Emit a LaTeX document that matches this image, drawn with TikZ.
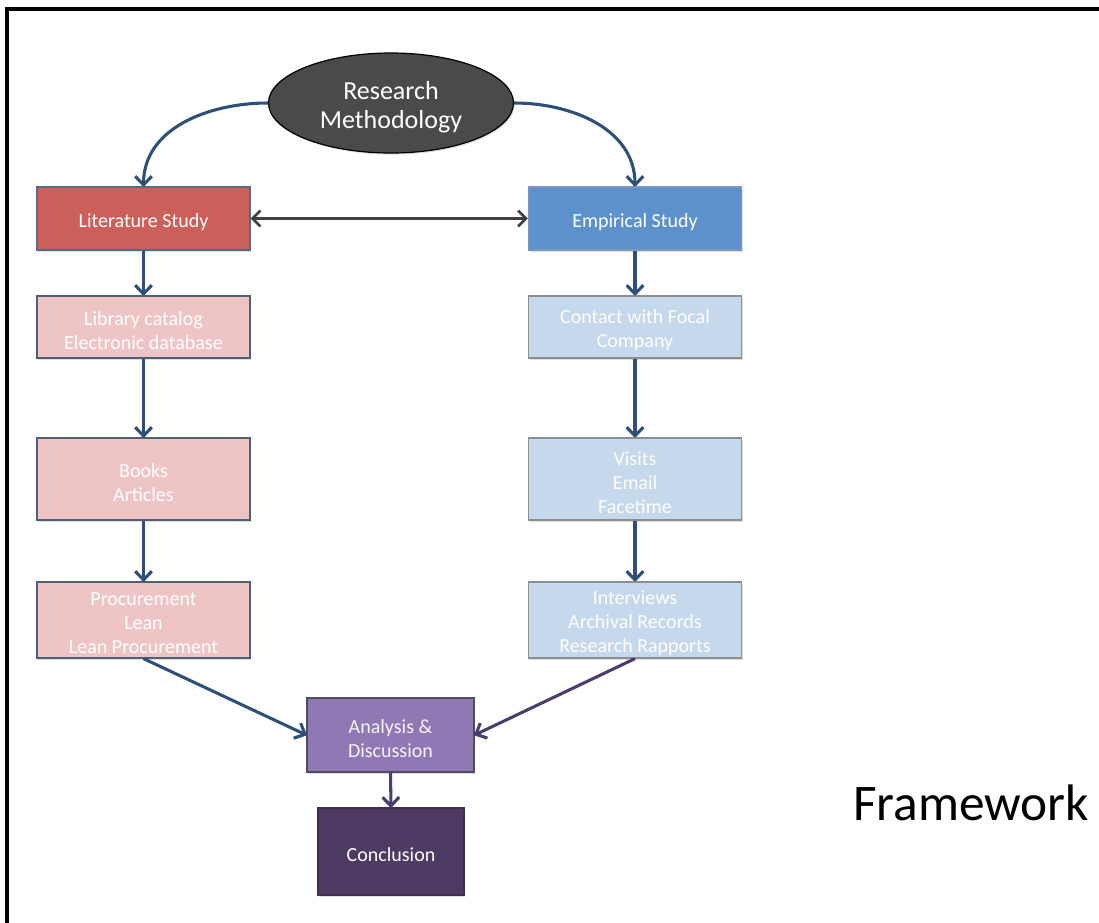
\documentclass[tikz,border=0pt]{standalone}
\usepackage{fontspec}
\setmainfont{Carlito}
\usetikzlibrary{arrows.meta,shapes.geometric,shadows}
\definecolor{litred}{HTML}{CD5F5B}
\definecolor{litborder}{HTML}{5A6B80}
\definecolor{pinkfill}{HTML}{EEC5C4}
\definecolor{pinkborder}{HTML}{4E6078}
\definecolor{empblue}{HTML}{5C91CB}
\definecolor{empborder}{HTML}{7C98BC}
\definecolor{ltblue}{HTML}{C6D8EB}
\definecolor{ltborder}{HTML}{8E8E8E}
\definecolor{anafill}{HTML}{8F78B4}
\definecolor{anaborder}{HTML}{4F4A60}
\definecolor{concfill}{HTML}{4E3B63}
\definecolor{ellfill}{HTML}{4A4A4A}
\definecolor{arrblue}{HTML}{2E4F78}
\definecolor{arrpurple}{HTML}{4A3D6E}
\definecolor{arrgray}{HTML}{404040}
\tikzset{
  txt/.style={align=center, inner sep=0pt, text=white, font=\fontsize{15}{18}\selectfont, yshift=-2.5pt},
  boxbase/.style={rectangle, inner sep=0pt, line width=0.9pt,
    drop shadow={opacity=0.25, shadow xshift=1pt, shadow yshift=-1.2pt}},
  sidebox/.style={boxbase, minimum width=159.75pt},
  litbox/.style={sidebox, fill=litred, draw=litborder},
  pinkbox/.style={sidebox, fill=pinkfill, draw=pinkborder},
  empbox/.style={sidebox, fill=empblue, draw=empborder},
  bluebox/.style={sidebox, fill=ltblue, draw=ltborder},
  flow/.style={line width=2.3pt, draw=arrblue, -{Straight Barb[length=6.5pt,width=12.5pt,line join=round]}},
  pflow/.style={flow, draw=arrpurple},
  gflow/.style={line width=2pt, draw=arrgray, {Straight Barb[length=6pt,width=12pt]}-{Straight Barb[length=6pt,width=12pt]}},
}
\begin{document}
\begin{tikzpicture}[x=0.75pt,y=-0.75pt]
\useasboundingbox (0,0) rectangle (1099,922);
% frame (left and top edges visible)
\draw[line width=2.4pt, black] (7,930) -- (7,9) -- (1110,9);

\node[ellipse, fill=ellfill, draw=black, line width=0.9pt, minimum width=183.75pt, minimum height=75pt, inner sep=0pt,
  drop shadow={opacity=0.25, shadow xshift=1pt, shadow yshift=-1.2pt},
  label={[txt, font=\fontsize{19.5}{21.75}\selectfont, yshift=-0.3pt]center:Research\\Methodology}] (rm) at (391,103) {};

\node[litbox, minimum height=47.25pt, label={[txt]center:Literature Study}] (lit) at (143.5,218.5) {};
\node[empbox, minimum height=47.25pt, label={[txt]center:Empirical Study}] (emp) at (635,218.5) {};

\node[pinkbox, minimum height=46.5pt, label={[txt]center:Library catalog\\Electronic database}] (lib) at (143.5,327) {};
\node[pinkbox, minimum height=61.5pt, label={[txt]center:Books\\Articles}] (books) at (143.5,479) {};
\node[pinkbox, minimum height=57pt, label={[txt]center:Procurement\\Lean\\Lean Procurement}] (proc) at (143.5,620) {};

\node[bluebox, minimum height=46.5pt, label={[txt]center:Contact with Focal\\Company}] (contact) at (635,327) {};
\node[bluebox, minimum height=61.5pt, label={[txt]center:Visits\\Email\\Facetime}] (visits) at (635,479) {};
\node[bluebox, minimum height=57pt, label={[txt]center:Interviews\\Archival Records\\Research Rapports}] (inter) at (635,620) {};

\node[boxbase, fill=anafill, draw=anaborder, minimum width=125.25pt, minimum height=55.5pt,
  label={[txt, text=white!92!anafill]center:Analysis \&\\Discussion}] (ana) at (390.5,735) {};
\node[boxbase, fill=concfill, draw=concfill!80!black, minimum width=109.5pt, minimum height=65.25pt,
  label={[txt]center:Conclusion}] (conc) at (391,851.5) {};

\node[anchor=base west, font=\fontsize{38.5}{44}\selectfont, inner sep=0pt] (fw) at (853,820) {Framework};

% connectors
\draw[flow] (rm.west) to[out=180, in=90] (lit.north);
\draw[flow] (rm.east) to[out=0, in=90] (emp.north);
\draw[gflow] (lit.east) -- (emp.west);
\draw[flow] (lit.south) -- (lib.north);
\draw[flow] (lib.south) -- (books.north);
\draw[flow] (books.south) -- (proc.north);
\draw[flow] (emp.south) -- (contact.north);
\draw[flow] (contact.south) -- (visits.north);
\draw[flow] (visits.south) -- (inter.north);
\draw[flow] (proc.south) -- (ana.west);
\draw[pflow] (inter.south) -- (ana.east);
\draw[pflow] (ana.south) -- (conc.north);
\end{tikzpicture}
\end{document}
